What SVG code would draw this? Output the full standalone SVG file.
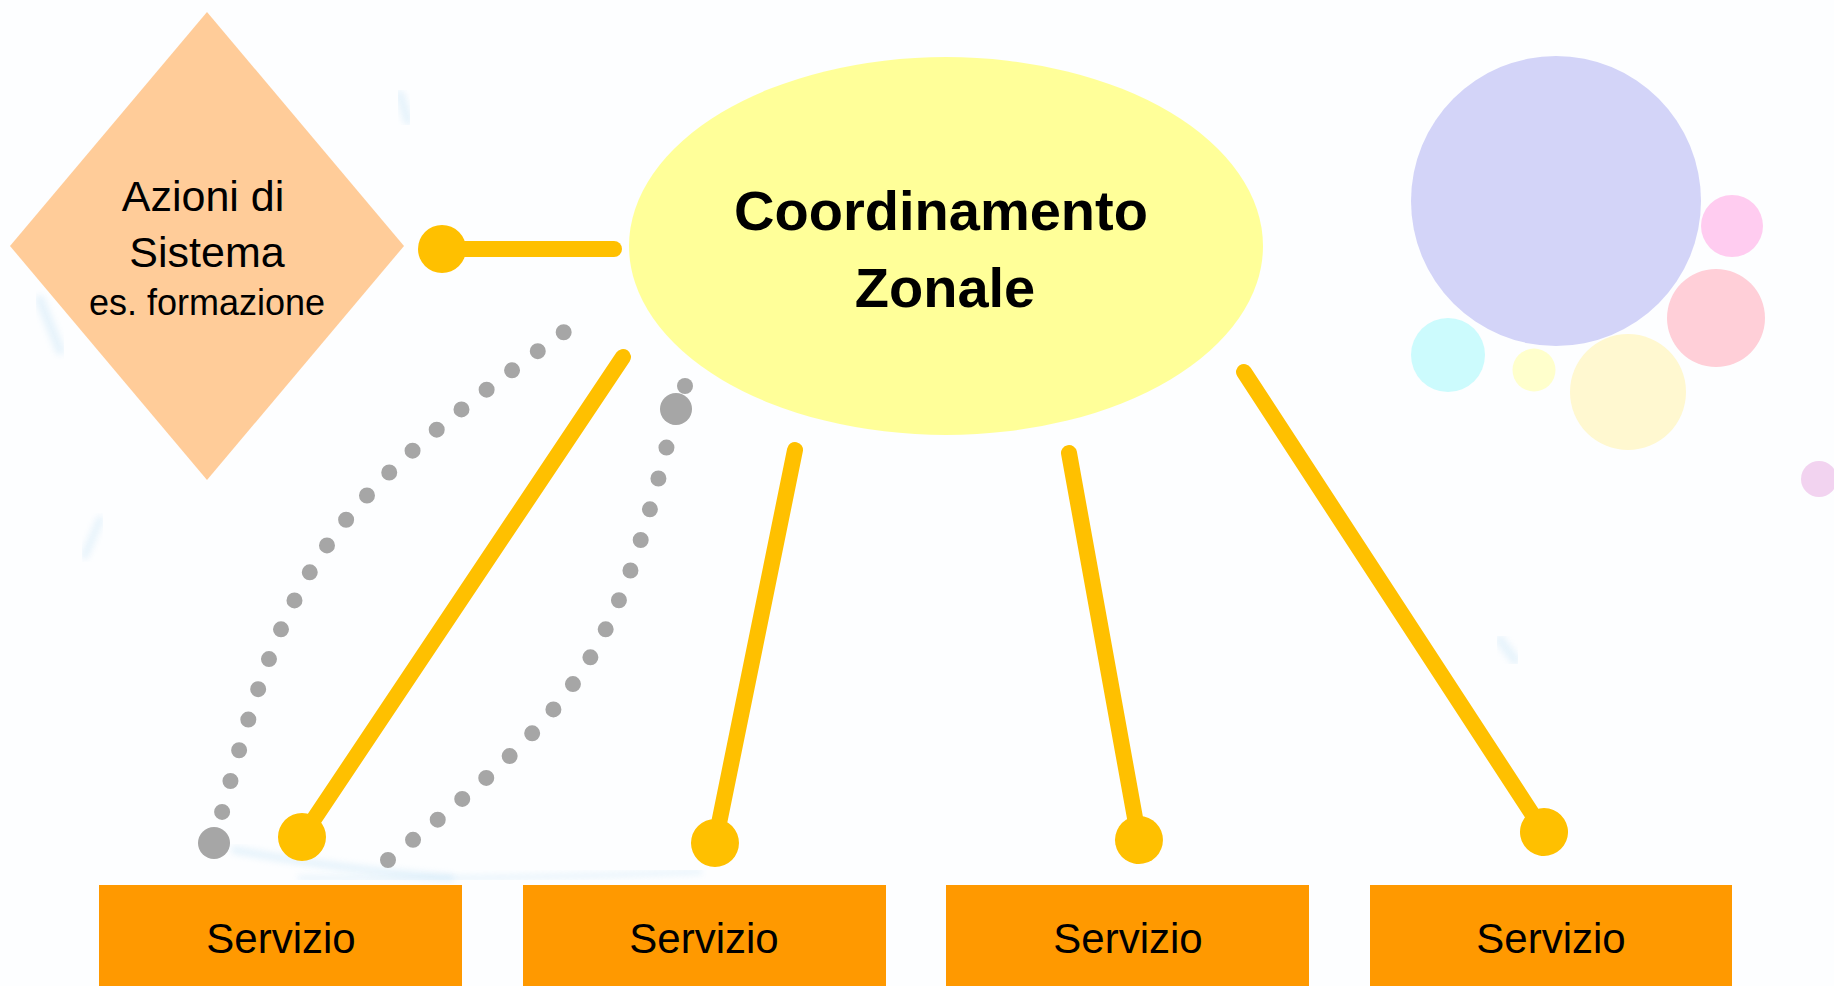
<svg xmlns="http://www.w3.org/2000/svg" width="1834" height="986" viewBox="0 0 1834 986">
  <defs>
    <style>
      .lbl { font-family: "Liberation Sans", Arial, sans-serif; fill: #000; text-anchor: middle; }
      .yl { fill: none; stroke: #FFC000; stroke-width: 16; stroke-linecap: round; marker-end: url(#ydot); }
      .gd { fill: none; stroke: #A6A6A6; stroke-width: 16; stroke-linecap: round; stroke-dasharray: 0 32; }
      .box { fill: #FF9900; }
      .tex { fill: none; stroke: #BFE0F5; stroke-linecap: round; opacity: 0.35; filter: url(#soft); }
    </style>
    <filter id="soft" x="-20%" y="-20%" width="140%" height="140%">
      <feGaussianBlur stdDeviation="3"/>
    </filter>
    <marker id="ydot" markerUnits="userSpaceOnUse" markerWidth="50" markerHeight="50" refX="25" refY="25" orient="auto">
      <circle cx="25" cy="25" r="24" fill="#FFC000"/>
    </marker>
  </defs>

  <rect x="0" y="0" width="1834" height="986" fill="#FDFEFF"/>

  <g id="background-texture">
    <path class="tex" stroke-width="8" d="M235 850 Q330 868 450 878"/>
    <path class="tex" stroke-width="5" d="M300 878 Q500 880 700 872"/>
    <path class="tex" stroke-width="10" d="M40 300 L60 350"/>
    <path class="tex" stroke-width="8" d="M100 520 L85 555"/>
    <path class="tex" stroke-width="10" d="M400 95 L408 120"/>
    <path class="tex" stroke-width="10" d="M1500 640 L1515 660"/>
  </g>

  <g id="decor-circles">
    <circle cx="1556" cy="201" r="145" fill="#D3D4F8"/>
    <circle cx="1732" cy="226" r="31" fill="#FFCCF0"/>
    <circle cx="1716" cy="318" r="49" fill="#FFCFD8"/>
    <circle cx="1448" cy="355" r="37" fill="#CCFBFD"/>
    <circle cx="1534" cy="370" r="21.5" fill="#FFFFCC"/>
    <circle cx="1628" cy="392" r="58" fill="#FFF8D0"/>
    <circle cx="1819" cy="479" r="18" fill="#F2D3F0"/>
  </g>

  <g id="node-azioni">
    <polygon points="207,12 404,246 207,480 10,246" fill="#FFCC99"/>
    <text class="lbl" x="203" y="211" font-size="43">Azioni di</text>
    <text class="lbl" x="207" y="267" font-size="43">Sistema</text>
    <text class="lbl" x="207" y="315" font-size="36">es. formazione</text>
  </g>

  <g id="node-coordinamento">
    <ellipse cx="946" cy="246" rx="317" ry="189" fill="#FFFF99"/>
    <text class="lbl" x="941" y="230" font-size="56" font-weight="bold">Coordinamento</text>
    <text class="lbl" x="945" y="307" font-size="56" font-weight="bold">Zonale</text>
  </g>

  <g id="node-servizio-1">
    <rect class="box" x="99" y="885" width="363" height="105"/>
    <text class="lbl" x="281" y="953" font-size="42">Servizio</text>
  </g>
  <g id="node-servizio-2">
    <rect class="box" x="523" y="885" width="363" height="105"/>
    <text class="lbl" x="704" y="953" font-size="42">Servizio</text>
  </g>
  <g id="node-servizio-3">
    <rect class="box" x="946" y="885" width="363" height="105"/>
    <text class="lbl" x="1128" y="953" font-size="42">Servizio</text>
  </g>
  <g id="node-servizio-4">
    <rect class="box" x="1370" y="885" width="362" height="105"/>
    <text class="lbl" x="1551" y="953" font-size="42">Servizio</text>
  </g>

  <g id="connectors">
    <path class="yl" d="M614 249 L442 249"/>
    <path class="yl" d="M623 357 L302 837"/>
    <path class="yl" d="M795 450 L715 843"/>
    <path class="yl" d="M1069 453 L1139 840"/>
    <path class="yl" d="M1244 372 L1544 832"/>
    <path class="gd" d="M214 843 C287 560 322 508 564 332"/>
    <circle cx="214" cy="843" r="16" fill="#A6A6A6"/>
    <path class="gd" d="M388 860 C587 701 616 656 676 409"/>
    <circle cx="676" cy="409" r="16" fill="#A6A6A6"/>
    <circle cx="685" cy="386" r="8" fill="#A6A6A6"/>
  </g>
</svg>
